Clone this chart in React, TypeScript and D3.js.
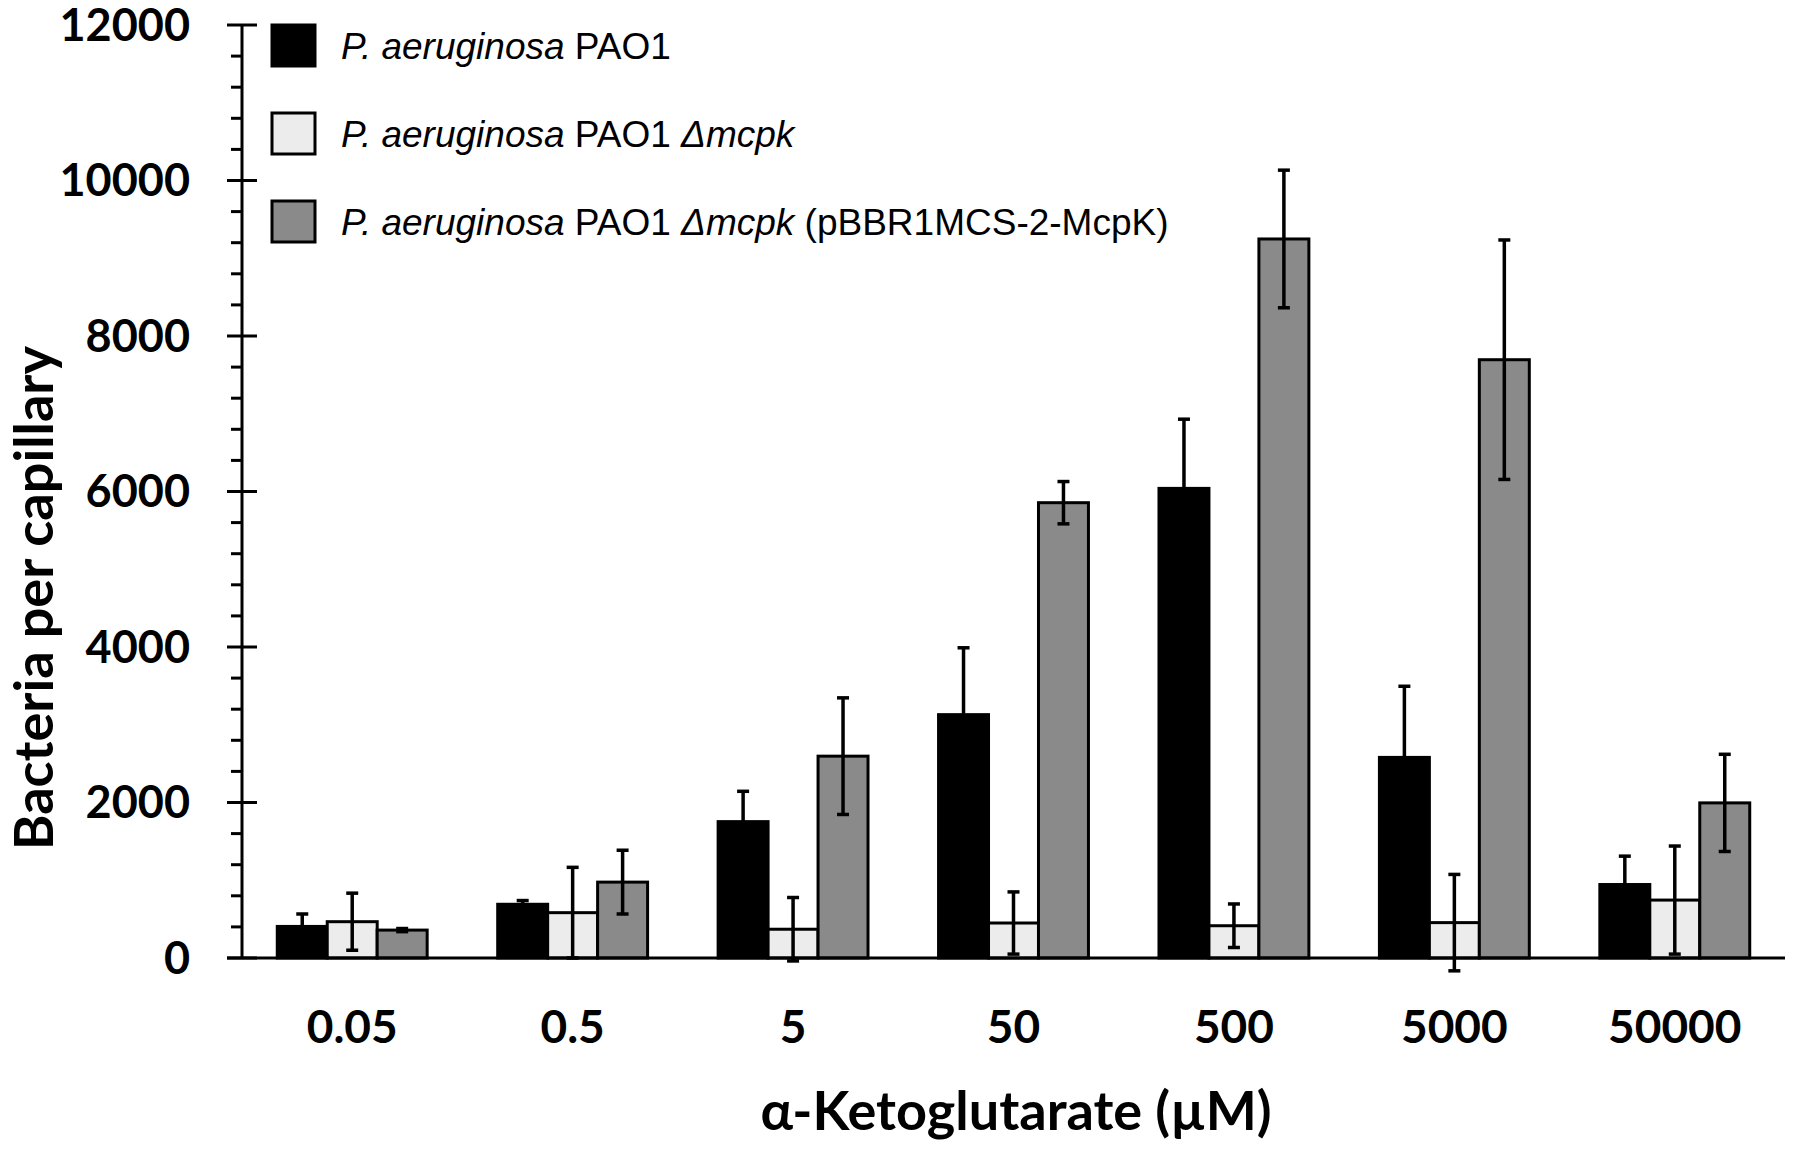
import React from 'react';
import * as d3 from 'd3';

// concentrations of alpha-ketoglutarate (µM)
const concentrations = ['0.05', '0.5', '5', '50', '500', '5000', '50000'];

// bacteria per capillary
const pao1 = [406, 691, 1754, 3130, 6040, 2580, 945];
const pao1Err = [160, 48, 390, 860, 890, 915, 365];
const mutant = [467, 583, 370, 450, 415, 455, 745];
const mutantErr = [367, 583, 408, 400, 280, 620, 695];
const complemented = [359, 976, 2596, 5856, 9248, 7695, 1995];
const complementedErr = [20, 410, 750, 272, 885, 1540, 625];

const yTicks = [0, 2000, 4000, 6000, 8000, 10000, 12000];
const seriesKeys = ['pao1', 'mutant', 'complemented'];
const seriesFill = ['#000000', '#ececec', '#8a8a8a'];

const W = 1800;
const H = 1150;
const margin = { left: 242, right: 15, top: 25, bottom: 192 };

const boldFont = 'Lato, "Open Sans", sans-serif';
const legendFont = '"Liberation Sans", Arial, sans-serif';

const App: React.FC = () => {
  const innerW = W - margin.left - margin.right;
  const baseline = H - margin.bottom;

  const x = d3.scaleBand<string>()
    .domain(concentrations)
    .range([margin.left, margin.left + innerW])
    .paddingInner(0.32)
    .paddingOuter(0.16);

  const xs = d3.scaleBand<string>()
    .domain(seriesKeys)
    .range([0, x.bandwidth()]);

  const y = d3.scaleLinear()
    .domain([0, 12000])
    .range([baseline, margin.top]);

  const minorTicks = d3.range(0, 12001, 400).filter(v => v % 2000 !== 0);

  const series = [
    { key: 'pao1', values: pao1, errs: pao1Err },
    { key: 'mutant', values: mutant, errs: mutantErr },
    { key: 'complemented', values: complemented, errs: complementedErr },
  ];

  const capW = 12;

  return (
    <svg width={W} height={H} style={{ position: 'absolute', left: 0, top: 0, background: '#fff' }}>
      {/* y axis */}
      <line x1={margin.left} x2={margin.left} y1={y(12000)} y2={baseline} stroke="#000" strokeWidth={3} />
      {yTicks.map(t => (
        <g key={t}>
          <line x1={margin.left - 15} x2={margin.left + 15} y1={y(t)} y2={y(t)} stroke="#000" strokeWidth={3} />
          <text x={190} y={y(t)} dy="0.35em" textAnchor="end" fontFamily={boldFont} fontWeight="bold" fontSize={45}>
            {t}
          </text>
        </g>
      ))}
      {minorTicks.map(t => (
        <line key={t} x1={margin.left - 11} x2={margin.left} y1={y(t)} y2={y(t)} stroke="#000" strokeWidth={3} />
      ))}

      {/* bars */}
      {series.map((s, si) =>
        concentrations.map((c, i) => (
          <rect
            key={s.key + c}
            x={(x(c) ?? 0) + (xs(s.key) ?? 0)}
            y={y(s.values[i])}
            width={xs.bandwidth()}
            height={baseline - y(s.values[i])}
            fill={seriesFill[si]}
            stroke="#000"
            strokeWidth={3}
          />
        ))
      )}

      {/* x axis line */}
      <line x1={margin.left - 15} x2={margin.left + innerW} y1={baseline} y2={baseline} stroke="#000" strokeWidth={3} />

      {/* error bars */}
      {series.map(s =>
        concentrations.map((c, i) => {
          const cx = (x(c) ?? 0) + (xs(s.key) ?? 0) + xs.bandwidth() / 2;
          const hi = y(s.values[i] + s.errs[i]);
          const lo = y(s.values[i] - s.errs[i]);
          return (
            <g key={'e' + s.key + c} stroke="#000" strokeWidth={3.5}>
              <line x1={cx} x2={cx} y1={hi} y2={lo} />
              <line x1={cx - capW / 2} x2={cx + capW / 2} y1={hi} y2={hi} />
              <line x1={cx - capW / 2} x2={cx + capW / 2} y1={lo} y2={lo} />
            </g>
          );
        })
      )}

      {/* x tick labels */}
      {concentrations.map(c => (
        <text
          key={'l' + c}
          x={(x(c) ?? 0) + x.bandwidth() / 2}
          y={1043}
          textAnchor="middle"
          fontFamily={boldFont}
          fontWeight="bold"
          fontSize={46}
        >
          {c}
        </text>
      ))}

      {/* axis titles */}
      <text x={1016} y={1130} textAnchor="middle" fontFamily={boldFont} fontWeight="bold" fontSize={54}>
        α-Ketoglutarate (µM)
      </text>
      <text
        transform={`translate(53,${598}) rotate(-90)`}
        textAnchor="middle"
        fontFamily={boldFont}
        fontWeight="bold"
        fontSize={54}
      >
        Bacteria per capillary
      </text>

      {/* legend */}
      {seriesKeys.map((k, i) => (
        <g key={'lg' + k} transform={`translate(272,${25 + i * 88})`}>
          <rect x={0} y={0} width={43} height={41} fill={seriesFill[i]} stroke="#000" strokeWidth={3} />
          <text x={69} y={21} dy="0.35em" fontFamily={legendFont} fontSize={37}>
            <tspan fontStyle="italic">P. aeruginosa</tspan>
            <tspan> PAO1</tspan>
            {i > 0 && <tspan fontStyle="italic"> Δmcpk</tspan>}
            {i === 2 && <tspan> (pBBR1MCS-2-McpK)</tspan>}
          </text>
        </g>
      ))}
    </svg>
  );
};

export default App;
